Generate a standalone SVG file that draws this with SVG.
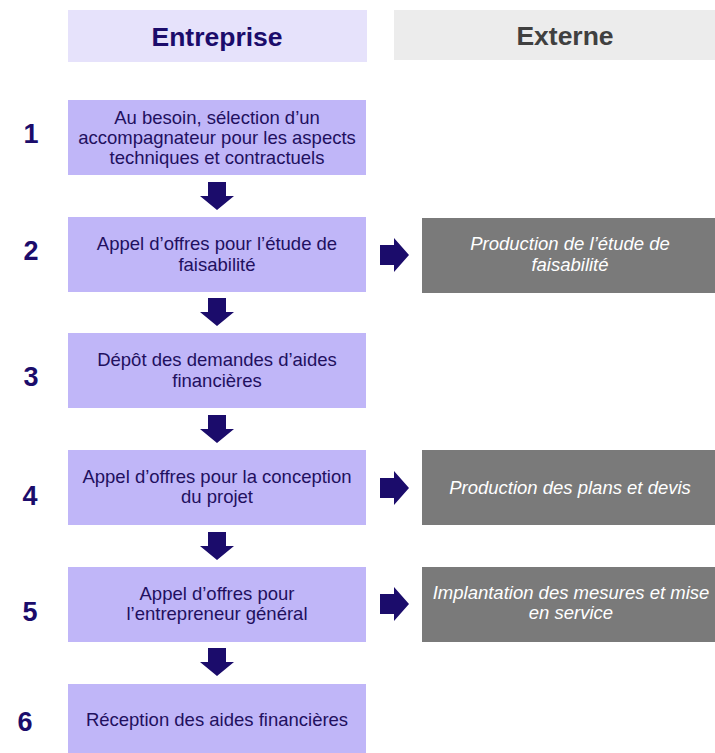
<svg xmlns="http://www.w3.org/2000/svg" width="715" height="753" viewBox="0 0 715 753">
<defs>
<style>
.hdrE{fill:#e6e2fb}
.hdrX{fill:#ececec}
.box{fill:#c0b6f8}
.ext{fill:#7a7a7a}
.arr{fill:#1b0c6b}
.ht{font-family:"Liberation Sans",Arial,sans-serif;font-weight:bold;font-size:26.5px;text-anchor:middle}
.bt{font-family:"Liberation Sans",Arial,sans-serif;font-size:18.5px;fill:#22105f;text-anchor:middle}
.et{font-family:"Liberation Sans",Arial,sans-serif;font-size:18.5px;font-style:italic;fill:#ffffff;text-anchor:middle}
.num{font-family:"Liberation Sans",Arial,sans-serif;font-weight:bold;font-size:27px;fill:#1b0c6b;text-anchor:middle}
</style>
<path id="down" d="M-9,0 H9 V14 H17 L0,28 L-17,14 H-9 Z"/>
<path id="right" d="M0,-10 H14 V-17 L29,0 L14,17 V10 H0 Z"/>
</defs>
<rect width="715" height="753" fill="#ffffff"/>
<g id="header-entreprise"><rect class="hdrE" x="68" y="10" width="299" height="52"/><text class="ht" x="217" y="46" fill="#1b0c6b">Entreprise</text></g>
<g id="header-externe"><rect class="hdrX" x="394" y="10" width="321" height="50"/><text class="ht" x="565" y="45" fill="#404040">Externe</text></g>
<g id="numbers">
<text class="num" x="31" y="143">1</text>
<text class="num" x="31" y="260">2</text>
<text class="num" x="31" y="386">3</text>
<text class="num" x="30" y="505">4</text>
<text class="num" x="30" y="621">5</text>
<text class="num" x="25" y="731">6</text>
</g>
<g id="step1"><rect class="box" x="68" y="100" width="298" height="75"/><text class="bt" x="217" y="124">Au besoin, sélection d’un</text><text class="bt" x="217" y="144">accompagnateur pour les aspects</text><text class="bt" x="217" y="164">techniques et contractuels</text></g>
<g id="step2"><rect class="box" x="68" y="217" width="298" height="75"/><text class="bt" x="217" y="250">Appel d’offres pour l’étude de</text><text class="bt" x="217" y="271">faisabilité</text></g>
<g id="step3"><rect class="box" x="68" y="333" width="298" height="75"/><text class="bt" x="217" y="366">Dépôt des demandes d’aides</text><text class="bt" x="217" y="387">financières</text></g>
<g id="step4"><rect class="box" x="68" y="450" width="298" height="75"/><text class="bt" x="217" y="483">Appel d’offres pour la conception</text><text class="bt" x="217" y="503">du projet</text></g>
<g id="step5"><rect class="box" x="68" y="567" width="298" height="75"/><text class="bt" x="217" y="600">Appel d’offres pour</text><text class="bt" x="217" y="620">l’entrepreneur général</text></g>
<g id="step6"><rect class="box" x="68" y="684" width="298" height="69"/><text class="bt" x="217" y="726">Réception des aides financières</text></g>
<g id="ext2"><rect class="ext" x="422" y="218" width="293" height="75"/><text class="et" x="570" y="250">Production de l’étude de</text><text class="et" x="570" y="271">faisabilité</text></g>
<g id="ext4"><rect class="ext" x="422" y="450" width="293" height="75"/><text class="et" x="570" y="494">Production des plans et devis</text></g>
<g id="ext5"><rect class="ext" x="422" y="567" width="293" height="75"/><text class="et" x="571" y="599">Implantation des mesures et mise</text><text class="et" x="571" y="619">en service</text></g>
<g id="connectors" class="arr">
<use href="#down" x="217" y="182"/>
<use href="#down" x="217" y="298"/>
<use href="#down" x="217" y="415"/>
<use href="#down" x="217" y="532"/>
<use href="#down" x="217" y="648"/>
<use href="#right" x="380" y="255"/>
<use href="#right" x="380" y="488"/>
<use href="#right" x="380" y="604"/>
</g>
</svg>
